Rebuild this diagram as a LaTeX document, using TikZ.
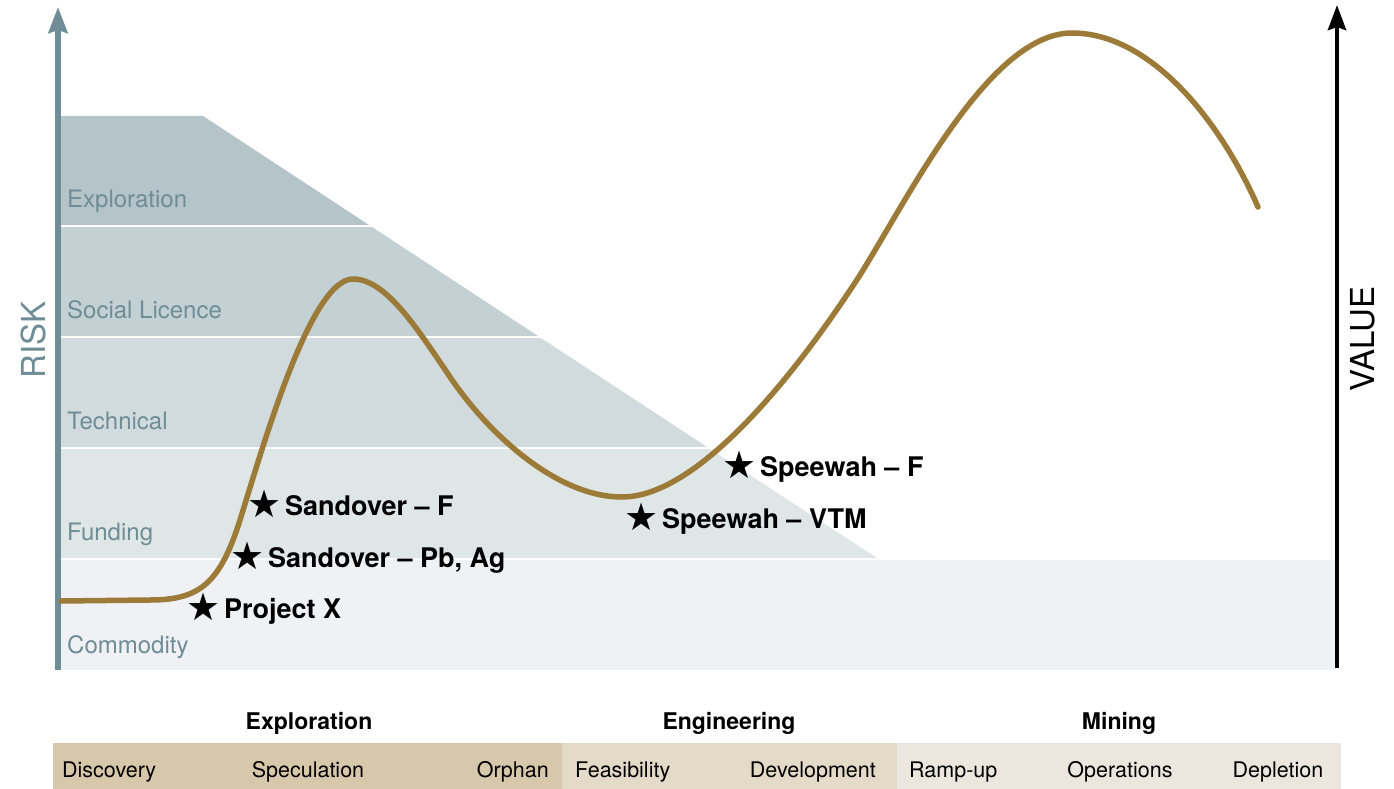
\documentclass[tikz,border=0pt]{standalone}
\usepackage{fontspec}
\setmainfont{TeX Gyre Heros}
\newfontfamily\symf{DejaVu Sans}
\usetikzlibrary{arrows.meta}
\definecolor{slate}{HTML}{6F8D97}
\definecolor{bandA}{HTML}{B4C4C8}
\definecolor{bandB}{HTML}{C3D0D4}
\definecolor{bandC}{HTML}{D1DADD}
\definecolor{bandD}{HTML}{DFE6E6}
\definecolor{bandE}{HTML}{EFF1F5}
\definecolor{gold}{HTML}{9C7B38}
\definecolor{tanA}{HTML}{D8C8AB}
\definecolor{tanB}{HTML}{E4DAC8}
\definecolor{tanC}{HTML}{ECE7DE}
\tikzset{
  bandlbl/.style={anchor=base west, text=slate, font=\fontsize{24}{28}\selectfont, inner sep=0pt},
  starlbl/.style={anchor=base west, font=\fontsize{27}{31}\selectfont\bfseries, inner sep=0pt},
  phaselbl/.style={anchor=base, font=\fontsize{23}{27}\selectfont\bfseries, inner sep=0pt},
  stagelbl/.style={font=\fontsize{21.5}{26}\selectfont, inner sep=0pt},
  axislbl/.style={font=\fontsize{33}{38}\selectfont, inner sep=0pt, rotate=90},
  curveline/.style={draw=gold, line width=5.5pt, line cap=round, line join=round},
}
\newcommand{\mystar}{\makebox[42pt][c]{\raisebox{-2.5pt}{\symf\fontsize{38}{40}\selectfont ★}}}
\begin{document}
\begin{tikzpicture}[x=1pt,y=-1pt]
\useasboundingbox (0,0) rectangle (1394,789);
% bands
\fill[bandA] (58,116) -- (203,116) -- (369,225) -- (58,225) -- cycle;
\fill[bandB] (58,227) -- (372,227) -- (538,336) -- (58,336) -- cycle;
\fill[bandC] (58,338) -- (541,338) -- (707,447) -- (58,447) -- cycle;
\fill[bandD] (58,449) -- (710,449) -- (877,558) -- (58,558) -- cycle;
\fill[bandE] (58,560) rectangle (1335,670);
% band labels
\node[bandlbl] (bl1) at (67,207) {Exploration};
\node[bandlbl] (bl2) at (67,318) {Social Licence};
\node[bandlbl] (bl3) at (67,429) {Technical};
\node[bandlbl] (bl4) at (67,540) {Funding};
\node[bandlbl] (bl5) at (67,653) {Commodity};
% axes
\coordinate (lb) at (58,670);
\coordinate (lt) at (58,7);
\coordinate (rb) at (1337,668);
\coordinate (rt) at (1337,5);
\draw[slate, line width=5.5pt, -{Stealth[length=26pt,width=19pt,inset=3pt]}] (lb) -- (lt);
\draw[black, line width=4.5pt, -{Stealth[length=25pt,width=18pt,inset=3pt]}] (rb) -- (rt);
\node[axislbl, text=slate] (risk) at (33,340) {RISK};
\node[axislbl, text=black] (value) at (1363,339) {VALUE};
% curve
\draw[curveline] (61,601) -- (150,600)
  .. controls (200,600) and (220,583) .. (240,520)
  .. controls (262,450) and (310,279) .. (353,279)
  .. controls (385,279) and (415,325) .. (450,377)
  .. controls (490,436) and (558,497) .. (622,497)
  .. controls (700,497) and (800,368) .. (860,275)
  .. controls (910,195) and (990,33) .. (1072,33)
  .. controls (1150,33) and (1220,120) .. (1258,207);
% stars
\node[starlbl] (px) at (182,618) {\mystar Project X};
\node[starlbl] (spb) at (226,567) {\mystar Sandover -- Pb, Ag};
\node[starlbl] (sf) at (243,515) {\mystar Sandover -- F};
\node[starlbl] (svtm) at (620,528) {\mystar Speewah -- VTM};
\node[starlbl] (swf) at (718,476) {\mystar Speewah -- F};
% bottom phase labels
\node[phaselbl] (ph1) at (309,729) {Exploration};
\node[phaselbl] (ph2) at (729,729) {Engineering};
\node[phaselbl] (ph3) at (1119,729) {Mining};
% bottom bar
\fill[tanA] (53,743) rectangle (562,789);
\fill[tanB] (562,743) rectangle (897,789);
\fill[tanC] (897,743) rectangle (1341,789);
\node[stagelbl, anchor=base west] (st1) at (62,777) {Discovery};
\node[stagelbl, anchor=base] (st2) at (308,777) {Speculation};
\node[stagelbl, anchor=base east] (st3) at (549,777) {Orphan};
\node[stagelbl, anchor=base west] (st4) at (575,777) {Feasibility};
\node[stagelbl, anchor=base east] (st5) at (876,777) {Development};
\node[stagelbl, anchor=base west] (st6) at (909,777) {Ramp-up};
\node[stagelbl, anchor=base] (st7) at (1120,777) {Operations};
\node[stagelbl, anchor=base] (st8) at (1278,777) {Depletion};
\end{tikzpicture}
\end{document}
